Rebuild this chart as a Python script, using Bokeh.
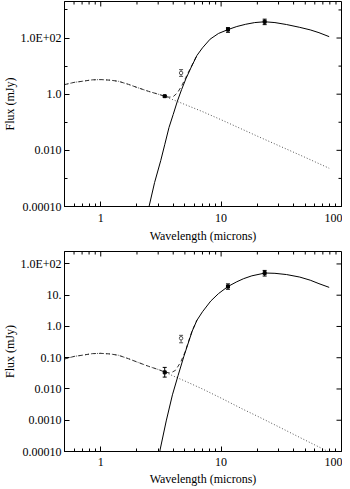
import math
from bokeh.plotting import figure
from bokeh.layouts import column
from bokeh.models import (Range1d, FixedTicker, CustomJSTickFormatter,
                          Whisker, TeeHead, ColumnDataSource)
from bokeh.embed import file_html
from bokeh.resources import INLINE

# ---------------- data ----------------
# stellar photosphere (dotted), wavelength in microns, flux in mJy
star_wl = [0.5, 0.6, 0.7, 0.85, 1.0, 1.2, 1.4, 1.7, 2.0, 2.5, 3.0, 3.4, 4.0, 5.0,
           7.0, 10, 15, 20, 30, 50, 79]
star_top = [2.19, 2.63, 2.88, 3.24, 3.31, 3.16, 2.88, 2.24, 1.74, 1.26, 1.0, 0.83,
            0.63, 0.43, 0.24, 0.123, 0.056, 0.032, 0.0148, 0.0056, 0.0023]
star_bot = [0.091, 0.110, 0.120, 0.135, 0.138, 0.132, 0.120, 0.093, 0.073, 0.053,
            0.042, 0.035, 0.026, 0.018, 0.010, 0.0051, 0.0023, 0.00135, 0.00062,
            0.00023, 0.000096]

# dust blackbody (solid)
dust_wl_top = [2.45, 2.52, 2.8, 3.15, 3.4, 3.69, 4.0, 4.33, 4.7, 5.1, 5.6, 6.3, 7.0,
               8.1, 9.5, 11.4, 13.5, 16, 19, 23, 28, 35, 45, 55, 65, 79]
dust_top = [6.0e-5, 1.0e-4, 7.1e-4, 4.3e-3, 0.0158, 0.065, 0.19, 0.56, 1.48, 3.55,
            8.5, 24, 44.7, 91, 145, 200, 257, 309, 355, 380, 355, 302, 240, 195,
            155, 112]
dust_wl_bot = [3.05, 3.11, 3.5, 3.94, 4.39, 4.91, 5.24, 5.75, 6.3, 7.0, 8.2, 9.5,
               11.4, 13.5, 15.4, 18, 23.2, 28, 35, 45, 55, 65, 79]
dust_bot = [6.3e-5, 1.12e-4, 9.5e-4, 6.5e-3, 0.027, 0.112, 0.24, 0.71, 1.58, 2.95,
            6.5, 11.2, 19.0, 26.9, 33.9, 41.7, 51.3, 50.1, 45.7, 38.0, 30.2, 23.4,
            17.8]

# star + dust (dashed)
tot_wl_top = [0.5, 0.6, 0.7, 0.85, 1.0, 1.2, 1.4, 1.7, 2.0, 2.5, 3.0, 3.4, 3.69,
              4.0, 4.33, 4.7, 5.1, 5.6, 6.3]
tot_top = [2.19, 2.63, 2.88, 3.24, 3.31, 3.16, 2.88, 2.24, 1.74, 1.26, 1.0, 0.85,
           0.78, 0.82, 1.11, 1.97, 4.0, 8.9, 24.3]
tot_wl_bot = [0.5, 0.6, 0.7, 0.85, 1.0, 1.2, 1.4, 1.7, 2.0, 2.5, 3.0, 3.4, 3.8,
              4.19, 4.61, 5.01, 5.4, 5.75, 6.3]
tot_bot = [0.091, 0.110, 0.120, 0.135, 0.138, 0.132, 0.120, 0.093, 0.073, 0.053,
           0.042, 0.035, 0.032, 0.040, 0.072, 0.15, 0.36, 0.73, 1.6]

# photometry
det_wl_top = [3.4, 11.4, 23]
det_top = [0.85, 200, 380]
det_lo_top = [0.80, 160, 300]
det_hi_top = [0.90, 235, 470]
up_wl_top = [4.65]
up_top = [5.7]
up_lo_top = [4.3]
up_hi_top = [7.5]

det_wl_bot = [3.4, 11.4, 23]
det_bot = [0.034, 19, 51]
det_lo_bot = [0.024, 15.5, 41]
det_hi_bot = [0.049, 23, 62]
up_wl_bot = [4.65]
up_bot = [0.42]
up_lo_bot = [0.30]
up_hi_bot = [0.52]

# ticks
x_ticks = [1, 10, 100]
x_tick_labels = ["1", "10", "100"]
x_minor = [0.5, 0.6, 0.7, 0.8, 0.9, 2, 3, 4, 5, 6, 7, 8, 9,
           20, 30, 40, 50, 60, 70, 80, 90]
y_ticks_top = [1e-4, 1e-2, 1, 1e2]
y_tick_labels_top = ["0.00010", "0.010", "1.0", "1.0E+02"]
y_minor_top = [1e-3, 1e-1, 10, 1e3]
y_ticks_bot = [1e-4, 1e-3, 1e-2, 1e-1, 1, 10, 1e2]
y_tick_labels_bot = ["0.00010", "0.0010", "0.010", "0.10", "1.0", "10.", "1.0E+02"]
y_minor_bot = []

X_MIN, X_MAX = 0.5, 100
Y_MIN = 1e-4
Y_MAX_TOP = 2000
Y_MAX_BOT = 250

FONT = "Liberation Serif"


def fmt(vals, labs):
    return CustomJSTickFormatter(args=dict(vals=vals, labs=labs), code="""
        for (let i = 0; i < vals.length; i++) {
            if (Math.abs(Math.log10(tick) - Math.log10(vals[i])) < 1e-6) return labs[i];
        }
        return '';
    """)


def style_axis(ax):
    ax.major_tick_in = 5
    ax.major_tick_out = 0
    ax.minor_tick_in = 3
    ax.minor_tick_out = 0
    ax.axis_line_color = "black"
    ax.major_tick_line_color = "black"
    ax.minor_tick_line_color = "black"
    ax.major_label_text_font = FONT
    ax.major_label_text_font_size = "12px"
    ax.major_label_text_color = "black"
    ax.axis_label_text_font = FONT
    ax.axis_label_text_font_size = "12px"
    ax.axis_label_text_font_style = "normal"
    ax.axis_label_text_color = "black"


def mirror_ticks(p, ymax, y_ticks, y_minor):
    # ticks on the top edge (pointing down) and right edge (pointing left)
    p.ray(x=x_ticks, y=[ymax] * len(x_ticks), length=5, length_units="screen",
          angle=-math.pi / 2, line_color="black", line_width=1)
    p.ray(x=x_minor, y=[ymax] * len(x_minor), length=3, length_units="screen",
          angle=-math.pi / 2, line_color="black", line_width=1)
    p.ray(x=[X_MAX] * len(y_ticks), y=y_ticks, length=5, length_units="screen",
          angle=math.pi, line_color="black", line_width=1)
    if y_minor:
        p.ray(x=[X_MAX] * len(y_minor), y=y_minor, length=3, length_units="screen",
              angle=math.pi, line_color="black", line_width=1)


def make_panel(ymax, y_ticks, y_labels, y_minor, height, top_border, bottom_border,
               label_standoff, title_standoff,
               s_y, d_wl, d_y, t_wl, t_y,
               dw, dv, dlo, dhi, uw, uv, ulo, uhi):
    p = figure(width=342, height=height, x_axis_type="log", y_axis_type="log",
               x_range=Range1d(X_MIN, X_MAX), y_range=Range1d(Y_MIN, ymax),
               output_backend="svg", toolbar_location=None,
               min_border_left=62, min_border_right=1,
               min_border_top=top_border, min_border_bottom=bottom_border)
    p.grid.visible = False
    p.outline_line_color = "black"
    p.outline_line_width = 1
    p.background_fill_color = "white"
    p.border_fill_color = "white"

    xa = p.xaxis[0]
    xa.ticker = FixedTicker(ticks=x_ticks, minor_ticks=x_minor)
    xa.formatter = fmt(x_ticks, x_tick_labels)
    xa.axis_label = "Wavelength (microns)"
    style_axis(xa)
    xa.major_label_standoff = label_standoff
    xa.axis_label_standoff = title_standoff

    ya = p.yaxis[0]
    ya.ticker = FixedTicker(ticks=y_ticks, minor_ticks=y_minor)
    ya.formatter = fmt(y_ticks, y_labels)
    ya.axis_label = "Flux (mJy)"
    style_axis(ya)
    ya.major_label_standoff = 3
    ya.axis_label_standoff = 0

    mirror_ticks(p, ymax, y_ticks, y_minor)

    # curves
    p.line(star_wl, s_y, line_color="#555555", line_width=1, line_dash="1 2")
    p.line(t_wl, t_y, line_color="#333333", line_width=1, line_dash="4 3")
    p.line(d_wl, d_y, line_color="black", line_width=1)

    # detections
    src = ColumnDataSource(dict(x=dw, y=dv, lo=dlo, hi=dhi))
    p.add_layout(Whisker(base="x", lower="lo", upper="hi", source=src,
                         line_color="black", line_width=1,
                         upper_head=TeeHead(size=4, line_color="black"),
                         lower_head=TeeHead(size=4, line_color="black")))
    p.scatter("x", "y", source=src, marker="square", size=3,
              fill_color="black", line_color="black")

    # open point
    usrc = ColumnDataSource(dict(x=uw, y=uv, lo=ulo, hi=uhi))
    p.add_layout(Whisker(base="x", lower="lo", upper="hi", source=usrc,
                         line_color="#555555", line_width=1,
                         upper_head=TeeHead(size=4, line_color="#555555"),
                         lower_head=TeeHead(size=4, line_color="#555555")))
    p.scatter("x", "y", source=usrc, marker="circle", size=3.5,
              fill_color="white", line_color="#555555")
    return p


p1 = make_panel(Y_MAX_TOP, y_ticks_top, y_tick_labels_top, y_minor_top, 250, 1, 44,
                7, 4,
                star_top, dust_wl_top, dust_top, tot_wl_top, tot_top,
                det_wl_top, det_top, det_lo_top, det_hi_top,
                up_wl_top, up_top, up_lo_top, up_hi_top)
p2 = make_panel(Y_MAX_BOT, y_ticks_bot, y_tick_labels_bot, y_minor_bot, 238, 1, 33,
                6, 3,
                star_bot, dust_wl_bot, dust_bot, tot_wl_bot, tot_bot,
                det_wl_bot, det_bot, det_lo_bot, det_hi_bot,
                up_wl_bot, up_bot, up_lo_bot, up_hi_bot)

layout = column(p1, p2, spacing=0)
open("out.html", "w").write(file_html(layout, INLINE))
